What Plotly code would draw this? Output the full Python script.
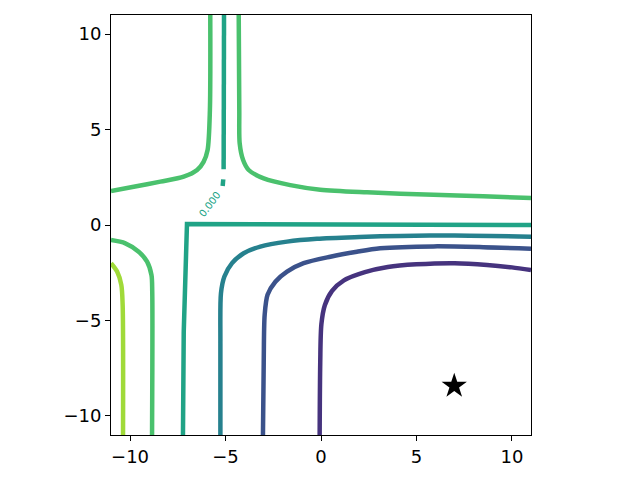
import plotly.graph_objects as go

# --- contour lines (x, y points along each level) ---
# levels ordered from low (purple) to high (yellow-green)
level_colors = ["#46337e", "#3b528b", "#26818e", "#20a386", "#4ac16d", "#a0da39"]

lvl1_x = [-0.07, -0.04, 0.02, 0.2, 0.58, 1.2, 2.3, 3.5, 5.0, 7.0, 8.7, 10.0, 11.0]
lvl1_y = [-11.0, -7.2, -5.2, -4.2, -3.45, -2.9, -2.47, -2.2, -2.06, -2.0, -2.09, -2.22, -2.36]

lvl2_x = [-3.04, -3.0, -2.95, -2.8, -2.39, -1.78, -0.91, 0.49, 1.88, 3.1, 5.9, 8.5, 11.0]
lvl2_y = [-11.0, -7.2, -4.7, -3.66, -2.97, -2.44, -2.0, -1.66, -1.4, -1.22, -1.12, -1.16, -1.24]

lvl3_x = [-5.27, -5.27, -5.24, -5.06, -4.66, -4.05, -3.18, -1.78, -0.21, 2.0, 4.15, 7.0, 11.0]
lvl3_y = [-11.0, -6.2, -3.58, -2.7, -2.0, -1.48, -1.13, -0.87, -0.72, -0.63, -0.57, -0.55, -0.61]

# level 4 has a sharp corner, plus the thin vertical piece above it
lvl4_x = [-7.23, -7.19, -7.02, 0.0, 11.0]
lvl4_y = [-11.0, -5.6, 0.05, 0.02, 0.0]
lvl4_top_x = [-5.08, -5.1, None, -5.12, -5.15]
lvl4_top_y = [11.0, 2.92, None, 2.39, 2.04]

lvl5_ul_x = [-5.8, -5.82, -5.94, -6.15, -6.49, -7.19, -8.41, -9.81, -11.0]
lvl5_ul_y = [11.0, 6.0, 3.93, 3.31, 2.88, 2.53, 2.27, 2.0, 1.78]
lvl5_ur_x = [-4.31, -4.28, -4.26, -4.08, -3.79, -3.0, -1.61, -0.04, 2.41, 5.9, 8.5, 11.0]
lvl5_ur_y = [11.0, 6.0, 4.28, 3.4, 2.88, 2.44, 2.09, 1.85, 1.71, 1.58, 1.5, 1.42]
lvl5_ll_x = [-11.0, -10.25, -9.55, -9.11, -8.88, -8.84, -8.85]
lvl5_ll_y = [-0.79, -0.96, -1.4, -1.92, -2.62, -3.49, -11.0]

lvl6_x = [-11.0, -10.68, -10.46, -10.39, -10.37]
lvl6_y = [-2.0, -2.44, -3.14, -4.19, -11.0]

label_text = "0.000"
label_x, label_y = -5.85, 1.1

star_x = [6.98]
star_y = [-8.43]

tick_vals = [-10, -5, 0, 5, 10]
axis_range = [-11, 11]

fig = go.Figure()


def add_line(xs, ys, color, shape="spline"):
    fig.add_trace(go.Scatter(
        x=xs, y=ys, mode="lines",
        line=dict(color=color, width=4.5, shape=shape, smoothing=0.8),
        hoverinfo="skip", showlegend=False,
    ))


add_line(lvl1_x, lvl1_y, level_colors[0])
add_line(lvl2_x, lvl2_y, level_colors[1])
add_line(lvl3_x, lvl3_y, level_colors[2])
add_line(lvl4_x, lvl4_y, level_colors[3], shape="linear")
add_line(lvl4_top_x, lvl4_top_y, level_colors[3], shape="linear")
add_line(lvl5_ul_x, lvl5_ul_y, level_colors[4])
add_line(lvl5_ur_x, lvl5_ur_y, level_colors[4])
add_line(lvl5_ll_x, lvl5_ll_y, level_colors[4])
add_line(lvl6_x, lvl6_y, level_colors[5])

# minimum marker
fig.add_trace(go.Scatter(
    x=star_x, y=star_y, mode="markers",
    marker=dict(symbol="star", size=19, color="black"),
    hoverinfo="skip", showlegend=False,
))

# inline contour label
fig.add_annotation(
    x=label_x, y=label_y, text=label_text, showarrow=False,
    textangle=-53, font=dict(family="DejaVu Sans", size=10, color=level_colors[3]),
)

axis_style = dict(
    range=axis_range, tickvals=tick_vals, showgrid=False, zeroline=False,
    showline=True, linecolor="black", linewidth=1, mirror=True,
    ticks="outside", ticklen=5, tickwidth=1, tickcolor="black",
    tickfont=dict(family="DejaVu Sans", size=18, color="black"),
)

fig.update_xaxes(**axis_style)
fig.update_yaxes(**axis_style)

# page body adds ~8px offset, so margins are shifted to compensate
fig.update_layout(
    width=640, height=480,
    margin=dict(l=103, r=117, t=7, b=53),
    plot_bgcolor="white", paper_bgcolor="white",
    showlegend=False,
)

fig.write_html("out.html")
